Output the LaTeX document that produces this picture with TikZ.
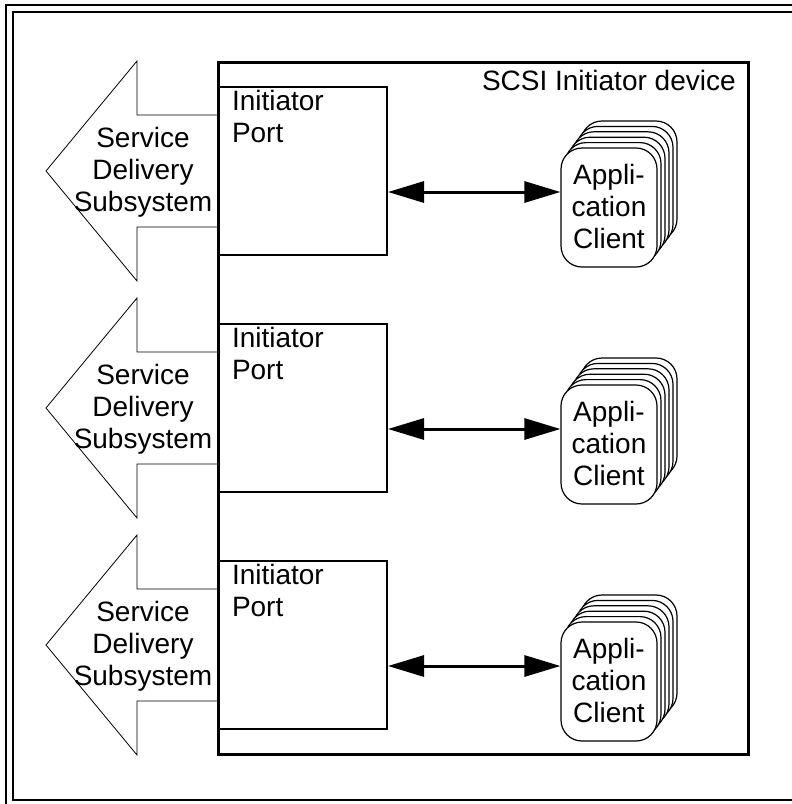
\documentclass[tikz,border=0pt]{standalone}
\usepackage{fontspec}
\setmainfont{Liberation Sans}
\usetikzlibrary{arrows.meta,calc}
\begin{document}
\begin{tikzpicture}[x=1pt,y=-1pt,
  txt/.style={font=\fontsize{28}{32}\selectfont, inner sep=0pt, outer sep=0pt},
  frameline/.style={line width=2.5pt},
  devbox/.style={draw, line width=3pt, rectangle, inner sep=0pt, minimum width=530pt, minimum height=692pt},
  portbox/.style={draw, line width=2pt, rectangle, fill=white, inner sep=0pt, minimum width=169pt, minimum height=168pt},
  card/.style={draw, line width=1.2pt, rectangle, rounded corners=21pt, fill=white, inner sep=0pt, minimum width=96pt, minimum height=119pt},
  sdsarrow/.style={draw, line width=0.8pt, fill=white, line join=miter},
  link/.style={line width=3pt, {Triangle[length=36pt,width=21pt]}-{Triangle[length=36pt,width=21pt]}}
]
\useasboundingbox (0,0) rectangle (792,804);
% outer double frame (cropped on right and bottom)
\begin{scope}
\clip (0,0) rectangle (792,804);
\draw[frameline] (6,5) rectangle (840,840);
\draw[frameline] (13,12) rectangle (810,800);
\end{scope}
% service delivery subsystem block arrows
\foreach \i in {0,1,2}{
  \pgfmathsetmacro{\dy}{237*\i}
  \draw[sdsarrow] (218,115+\dy) -- (137,115+\dy) -- (137,61+\dy) -- (46,171+\dy)
     -- (137,281+\dy) -- (137,227+\dy) -- (218,227+\dy);
  \node[txt, anchor=base, align=center] (sds\i) at (143,211+\dy) {Service\\Delivery\\Subsystem};
}
% ports, clients and links
\foreach \i in {0,1,2}{
  \pgfmathsetmacro{\dy}{237*\i}
  \node[portbox] (port\i) at (302.5,171+\dy) {};
  \node[txt, anchor=base west, align=left] (portlabel\i) at (232,142+\dy) {Initiator\\Port};
  \foreach \k in {5,4,3,2,1}{
    \node[card] (client\i b\k) at (609+4*\k,207.5+\dy-5.4*\k) {};
  }
  \node[card] (client\i) at (609,207.5+\dy) {};
  \node[txt, anchor=base, align=center] (clientlabel\i) at (609,248+\dy) {Appli-\\cation\\Client};
  \coordinate (ay\i) at (0,192+\dy);
  \draw[link] (port\i.east |- ay\i) -- (client\i.west |- ay\i);
}
% device box (drawn last so its thick border stays on top)
\node[devbox] (device) at (483,408) {};
\node[txt, anchor=base west] (devlabel) at (482,90) {SCSI Initiator device};
\end{tikzpicture}
\end{document}
